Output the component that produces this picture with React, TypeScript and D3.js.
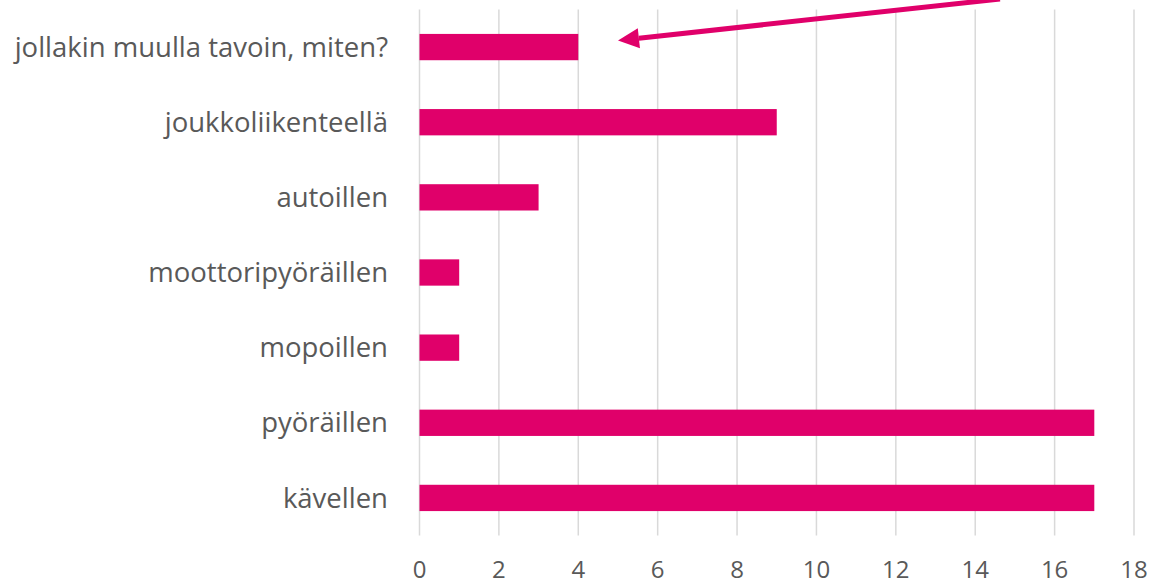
import React from "react";
import * as d3 from "d3";

const categories = [
  "jollakin muulla tavoin, miten?",
  "joukkoliikenteellä",
  "autoillen",
  "moottoripyöräillen",
  "mopoillen",
  "pyöräillen",
  "kävellen",
];
const values = [4, 9, 3, 1, 1, 17, 17];
const xTicks = [0, 2, 4, 6, 8, 10, 12, 14, 16, 18];

const W = 1149;
const H = 582;
const plot = { left: 419.5, right: 1134, top: 9.5, bottom: 535.5 };
const barColor = "#E0006A";
const textColor = "#595959";
const gridColor = "#D9D9D9";
const font = "'Open Sans', 'Noto Sans', sans-serif";

export default function App() {
  const x = d3.scaleLinear().domain([0, 18]).range([plot.left, plot.right]);
  const y = d3
    .scaleBand<string>()
    .domain(categories)
    .range([plot.top, plot.bottom])
    .paddingInner(0.65)
    .paddingOuter(0.325);

  // arrow geometry (annotation)
  const tip = { x: 618, y: 40.5 };
  const start = { x: 1000, y: -1 };
  const ang = Math.atan2(start.y - tip.y, start.x - tip.x);
  const headLen = 21;
  const headHalf = 10;
  const bx = tip.x + headLen * Math.cos(ang);
  const by = tip.y + headLen * Math.sin(ang);
  const px = -Math.sin(ang);
  const py = Math.cos(ang);
  const head = [
    [tip.x, tip.y],
    [bx + headHalf * px, by + headHalf * py],
    [bx - headHalf * px, by - headHalf * py],
  ];

  return (
    <svg
      width={W}
      height={H}
      style={{ position: "absolute", left: 0, top: 0, background: "#fff" }}
      fontFamily={font}
    >
      {xTicks.map((t) => (
        <line
          key={"g" + t}
          x1={x(t)}
          x2={x(t)}
          y1={plot.top}
          y2={plot.bottom}
          stroke={gridColor}
          strokeWidth={1.5}
        />
      ))}
      {categories.map((c, i) => (
        <rect
          key={c}
          x={x(0)}
          y={y(c)}
          width={x(values[i]) - x(0)}
          height={y.bandwidth()}
          fill={barColor}
        />
      ))}
      {categories.map((c) => (
        <text
          key={"l" + c}
          x={388}
          y={(y(c) as number) + y.bandwidth() / 2}
          dy="0.35em"
          textAnchor="end"
          fontSize={27.5}
          fill={textColor}
        >
          {c}
        </text>
      ))}
      {xTicks.map((t) => (
        <text
          key={"t" + t}
          x={x(t)}
          y={578}
          textAnchor="middle"
          fontSize={24}
          fill={textColor}
        >
          {t}
        </text>
      ))}
      <line
        x1={start.x}
        y1={start.y}
        x2={bx}
        y2={by}
        stroke={barColor}
        strokeWidth={5}
      />
      <polygon points={head.map((p) => p.join(",")).join(" ")} fill={barColor} />
    </svg>
  );
}
